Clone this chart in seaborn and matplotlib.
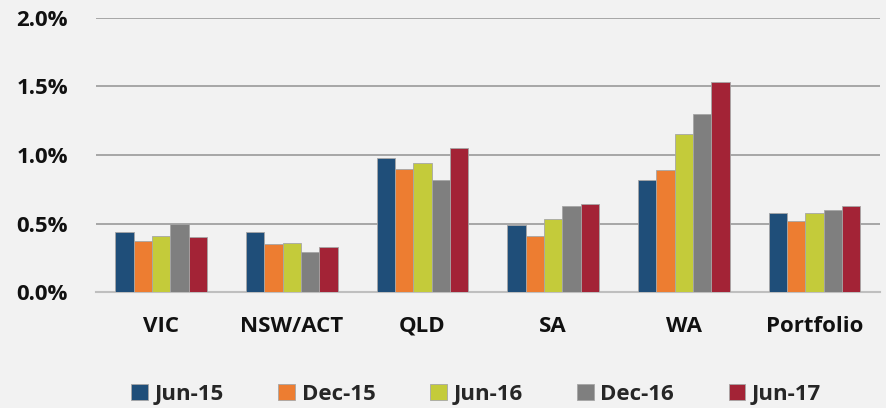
import pandas as pd
import matplotlib
matplotlib.use("Agg")
import matplotlib.pyplot as plt
import seaborn as sns
from matplotlib.ticker import FuncFormatter, MultipleLocator

regions = ["VIC", "NSW/ACT", "QLD", "SA", "WA", "Portfolio"]
periods = ["Jun-15", "Dec-15", "Jun-16", "Dec-16", "Jun-17"]

# arrears rate (%) by region, one list per period
jun15 = [0.44, 0.44, 0.98, 0.49, 0.82, 0.58]
dec15 = [0.37, 0.35, 0.90, 0.41, 0.89, 0.52]
jun16 = [0.41, 0.36, 0.94, 0.53, 1.15, 0.58]
dec16 = [0.50, 0.29, 0.82, 0.63, 1.30, 0.60]
jun17 = [0.40, 0.33, 1.05, 0.64, 1.53, 0.63]

colors = ["#1f4e79", "#ed7d31", "#c4cb3a", "#7f7f7f", "#a32336"]

series = [jun15, dec15, jun16, dec16, jun17]
rows = []
for p, vals in zip(periods, series):
    for r, v in zip(regions, vals):
        rows.append({"region": r, "period": p, "rate": v})
df = pd.DataFrame(rows)

sns.set_theme(style="white")
plt.rcParams["font.family"] = ["Open Sans", "DejaVu Sans"]

fig = plt.figure(figsize=(8.87, 4.08), dpi=100, facecolor="#f2f2f2")
ax = fig.add_axes([0.108, 0.284, 0.884, 0.672])
ax.set_facecolor("#f2f2f2")

sns.barplot(data=df, x="region", y="rate", hue="period", order=regions,
            hue_order=periods, palette=colors, saturation=1, width=0.7,
            edgecolor="#a6a6a6", linewidth=0.6, ax=ax, zorder=3)

ax.set_ylim(0, 2.0)
ax.yaxis.set_major_locator(MultipleLocator(0.5))
ax.yaxis.set_major_formatter(FuncFormatter(lambda v, _: f"{v:.1f}%"))
ax.grid(axis="y", color="#a6a6a6", linewidth=1.4, zorder=0)
ax.set_axisbelow(True)
for s in ["top", "right", "left"]:
    ax.spines[s].set_visible(False)
ax.spines["bottom"].set_color("#bfbfbf")
ax.spines["bottom"].set_linewidth(1.5)
ax.set_xlabel("")
ax.set_ylabel("")
ax.tick_params(axis="y", length=0, pad=20, labelsize=16)
ax.tick_params(axis="x", length=0, pad=17, labelsize=16)
for lbl in ax.get_xticklabels() + ax.get_yticklabels():
    lbl.set_fontweight("bold")
    lbl.set_color("#111111")

ax.legend_.remove()
handles, labels = ax.get_legend_handles_labels()
fig.legend(handles[:5], labels[:5], loc="center", bbox_to_anchor=(0.537, 0.033),
           ncol=5, frameon=False, handlelength=0.75, handleheight=0.75,
           handletextpad=0.3, columnspacing=2.45,
           prop={"family": ["Open Sans", "DejaVu Sans"], "weight": "bold", "size": 16})

fig.savefig("out.png", dpi=100, facecolor=fig.get_facecolor())
